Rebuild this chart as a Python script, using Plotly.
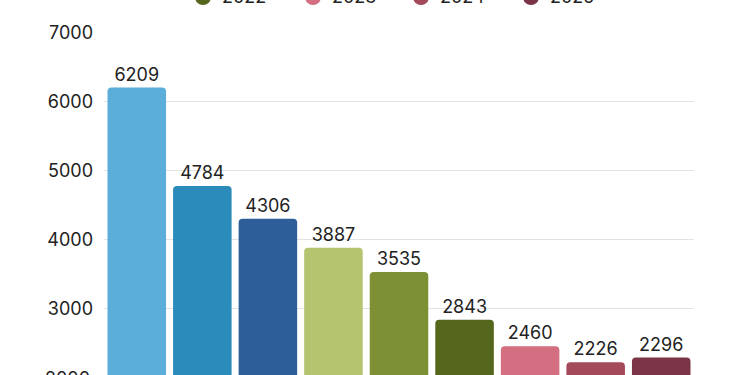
import plotly.graph_objects as go

years = ["2017", "2018", "2019", "2020", "2021", "2022", "2023", "2024", "2025"]
values = [6209, 4784, 4306, 3887, 3535, 2843, 2460, 2226, 2296]
colors = ["#5aaed9", "#2b8bbb", "#2d5e98", "#b5c46f", "#7d9033", "#55661d",
          "#d46f82", "#a4495a", "#7a3445"]
tick_vals = [2000, 3000, 4000, 5000, 6000, 7000]

FONT = "Inter, Roboto, sans-serif"
FS = 18
W, H = 750, 375
ML, MR, MT, MB = 104, 56, 33, 0
Y0, Y1 = 2043, 7000

fig = go.Figure()
for yr, v, c in zip(years, values, colors):
    fig.add_trace(go.Bar(
        x=[yr], y=[v], name=yr, marker=dict(color=c, line=dict(width=0)),
        text=[str(v)], textposition="outside", cliponaxis=False,
        textfont=dict(family=FONT, size=FS, color="#222222"),
        showlegend=False,
    ))

# partial legend (second row; first row is above the visible area)
legend_years = years[5:]
legend_colors = colors[5:]
legend_x = [203, 313, 421, 531]
pw = W - ML - MR
ph = H - MT - MB
shapes = []
annotations = []
for yr, c, px in zip(legend_years, legend_colors, legend_x):
    xp = (px - ML) / pw
    yp = (H - MB - (-3)) / ph
    shapes.append(dict(type="circle", xref="paper", yref="paper",
                       xsizemode="pixel", ysizemode="pixel",
                       xanchor=xp, yanchor=yp, x0=-8, x1=8, y0=-8, y1=8,
                       fillcolor=c, line=dict(width=0)))
    annotations.append(dict(xref="paper", yref="paper", x=(px + 17 - ML) / pw,
                            y=yp, xanchor="left", yanchor="middle",
                            text=yr, showarrow=False,
                            font=dict(family=FONT, size=FS, color="#222222")))

# the 2000 tick label sits just below the visible edge
annotations.append(dict(xref="paper", yref="paper", x=-12 / pw,
                        y=(H - MB - 378.5) / ph, xanchor="right", yanchor="middle",
                        text=str(tick_vals[0]), showarrow=False,
                        font=dict(family=FONT, size=FS, color="#222222")))

fig.update_layout(
    width=W, height=H,
    margin=dict(l=ML, r=MR, t=MT, b=MB, autoexpand=False),
    paper_bgcolor="white", plot_bgcolor="white",
    bargap=0.107, barcornerradius=4,
    font=dict(family=FONT, size=FS, color="#222222"),
    shapes=shapes, annotations=annotations,
    xaxis=dict(showticklabels=False, showgrid=False, zeroline=False, showline=False),
    yaxis=dict(range=[Y0, Y1], tickvals=tick_vals, showgrid=True,
               gridcolor="#e3e3e3", gridwidth=1, zeroline=False, showline=False,
               ticks="", ticklabelstandoff=10,
               tickfont=dict(family=FONT, size=FS, color="#222222")),
)

fig.write_html("out.html", config={"displayModeBar": False},
               post_script="document.body.style.margin='0';")
